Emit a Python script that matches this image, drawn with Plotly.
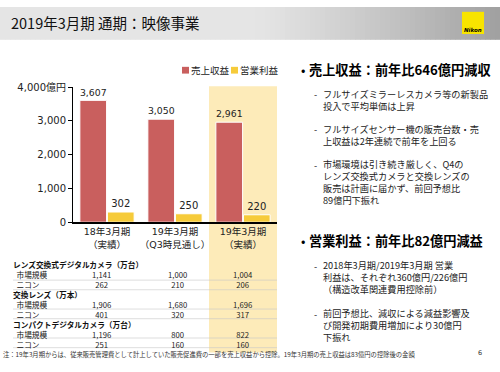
import plotly.graph_objects as go

# ---------------- data ----------------
periods = ["18年3月期<br>（実績）", "19年3月期<br>（Q3時見通し）", "19年3月期<br>（実績）"]
revenue = [3607, 3050, 2961]
op_income = [302, 250, 220]
y_ticks = [0, 1000, 2000, 3000, 4000]
y_tick_labels = ["0", "1,000", "2,000", "3,000", "4,000億円"]
series_names = ["売上収益", "営業利益"]

section_titles = ["レンズ交換式デジタルカメラ（万台）", "交換レンズ（万本）", "コンパクトデジタルカメラ（万台）"]
row_labels = ["市場規模", "ニコン"]
ilc_market = [1141, 1000, 1004]
ilc_nikon = [262, 210, 206]
lens_market = [1906, 1680, 1696]
lens_nikon = [401, 320, 317]
compact_market = [1196, 800, 822]
compact_nikon = [251, 160, 160]

title_text = "2019年3月期 通期：映像事業"
heading1 = "売上収益：前年比646億円減収"
bullets1 = [
    ["フルサイズミラーレスカメラ等の新製品", "投入で平均単価は上昇"],
    ["フルサイズセンサー機の販売台数・売", "上収益は2年連続で前年を上回る"],
    ["市場環境は引き続き厳しく、Q4の", "レンズ交換式カメラと交換レンズの", "販売は計画に届かず、前回予想比", "89億円下振れ"],
]
heading2 = "営業利益：前年比82億円減益"
bullets2 = [
    ["2018年3月期/2019年3月期 営業", "利益は、それぞれ360億円/226億円", "（構造改革関連費用控除前）"],
    ["前回予想比、減収による減益影響及", "び開発初期費用増加により30億円", "下振れ"],
]
footnote = "注：19年3月期からは、従来販売管理費として計上していた販売促進費の一部を売上収益から控除。19年3月期の売上収益は83億円の控除後の金額"
page_no = "6"

# ---------------- style ----------------
W, H = 500, 372
JP = "Noto Sans CJK JP, sans-serif"
NUM = "DejaVu Sans, Noto Sans CJK JP, sans-serif"
RED = "#c95f5e"
YEL = "#f6cb3a"
HIL = "#fdebb9"
NB = "\u00a0"


def fx(px):
    return px / W


def fy(py):
    return 1 - py / H


fig = go.Figure()
fig.add_trace(go.Bar(
    x=periods, y=revenue, name=series_names[0], marker=dict(color=RED, line=dict(color="white", width=1)),
    texttemplate="%{y:,}", textposition="outside", cliponaxis=False,
    textfont=dict(family=NUM, size=10, color="#222"), showlegend=False,
))
fig.add_trace(go.Bar(
    x=periods, y=op_income, name=series_names[1], marker=dict(color=YEL, line=dict(color="white", width=1)),
    texttemplate="%{y:,}", textposition="outside", cliponaxis=False,
    textfont=dict(family=NUM, size=10, color="#222"), showlegend=False,
))

shapes = []
annotations = []


def note(text, x, y, size, color="#222", family=JP, xanchor="left", xref="paper", xshift=0, align="left"):
    annotations.append(dict(text=text, xref=xref, yref="paper", x=x, y=y, xanchor=xanchor, yanchor="middle",
                            xshift=xshift, showarrow=False, borderpad=0, align=align,
                            font=dict(family=family, size=size, color=color)))


# title bar gradient
step = 5
for i in range(0, W, step):
    t = max(0.0, (i - 250) / 250)
    v = int(round(229 - 70 * t ** 1.2))
    shapes.append(dict(type="rect", xref="paper", yref="paper", x0=fx(i), x1=fx(i + step + 0.5),
                       y0=fy(34), y1=fy(0), fillcolor=f"rgb({v},{v},{v})", line=dict(width=0), layer="below"))
# Nikon logo
shapes.append(dict(type="rect", xref="paper", yref="paper", x0=fx(462), x1=fx(484), y0=fy(28), y1=fy(5),
                   fillcolor="#f8e400", line=dict(width=0)))
note("<b><i>Nikon</i></b>", fx(473), fy(24), 5.5, color="#000", family="DejaVu Sans", xanchor="center")
note(title_text, fx(10), fy(16), 14.5, color="#111")

# highlight column for the actual result
shapes.append(dict(type="rect", xref="x", yref="paper", x0=1.5, x1=2.5, y0=fy(358), y1=fy(82),
                   fillcolor=HIL, line=dict(width=0), layer="below"))

# manual legend
leg = [(182, RED, series_names[0]), (231, YEL, series_names[1])]
for lx, col, name in leg:
    shapes.append(dict(type="rect", xref="paper", yref="paper", x0=fx(lx), x1=fx(lx + 7), y0=fy(69), y1=fy(62),
                       fillcolor=col, line=dict(width=0)))
    note(name, fx(lx + 8), fy(65.5), 9.5)

# table (each column is one multi-line text; line pitch = 1.3 * font size ~ 10 px)
sections = [
    (section_titles[0], [ilc_market, ilc_nikon]),
    (section_titles[1], [lens_market, lens_nikon]),
    (section_titles[2], [compact_market, compact_nikon]),
]
TFS = 7.7
label_lines = []
col_lines = [[], [], []]
row_y = 268
for title, rows in sections:
    label_lines.append("<b>" + title + "</b>")
    for c in col_lines:
        c.append(NB)
    row_y += 10
    for label, vals in zip(row_labels, rows):
        label_lines.append(NB * 2 + label)
        for ci, v in enumerate(vals):
            col_lines[ci].append(f"{v:,}")
        shapes.append(dict(type="line", xref="paper", yref="paper", x0=fx(13), x1=fx(277),
                           y0=fy(row_y + 5), y1=fy(row_y + 5), line=dict(color="#c8c8c8", width=0.6)))
        row_y += 10
table_center = (268 + row_y - 10) / 2
note("<br>".join(label_lines), fx(12), fy(table_center), TFS, color="#111")
col_shift = [-6, 2, 0]
for ci in range(3):
    note("<br>".join(col_lines[ci]), periods[ci], fy(table_center), TFS, xanchor="center", xref="x",
         xshift=col_shift[ci], align="center")

note(footnote, fx(2), fy(360), 6.3, color="#333")
note(page_no, fx(480), fy(359), 6.5, color="#333", family=NUM, xanchor="center")


# right-hand text
BFS = 9.2


def heading(text, y):
    note("•", fx(300), fy(y), 13, color="#000")
    note("<b>" + text + "</b>", fx(308), fy(y), 13.2, color="#000")


def bullet(lines, center):
    n = len(lines)
    first = center - (n - 1) * 1.3 * BFS / 2
    note("-", fx(313), fy(first), BFS)
    note("<br>".join(lines), fx(322), fy(center), BFS)


heading(heading1, 65)
bullet(bullets1[0], 96.3)
bullet(bullets1[1], 132.5)
bullet(bullets1[2], 181.5)
heading(heading2, 242)
bullet(bullets2[0], 280)
bullet(bullets2[1], 330)

fig.update_layout(
    width=W, height=H, margin=dict(l=0, r=0, t=0, b=0),
    paper_bgcolor="white", plot_bgcolor="rgba(0,0,0,0)",
    barmode="group", bargap=0.19, bargroupgap=0.03,
    shapes=shapes, annotations=annotations, showlegend=False,
    xaxis=dict(domain=[fx(73), fx(277)], range=[-0.5, 2.5], showline=True, linecolor="#000", linewidth=1.5,
               ticks="", tickfont=dict(family=NUM, size=9.5, color="#222"), showgrid=False, fixedrange=True),
    yaxis=dict(domain=[fy(223), fy(83)], range=[0, 4000], tickvals=y_ticks, ticktext=y_tick_labels,
               showline=True, linecolor="#000", linewidth=1, ticks="outside", ticklen=4, tickcolor="#000",
               tickfont=dict(family=NUM, size=10, color="#222"), showgrid=False, zeroline=False, fixedrange=True),
)

fig.write_html("out.html", config={"displayModeBar": False},
               post_script="document.body.style.margin='0';document.body.style.overflow='hidden';")
